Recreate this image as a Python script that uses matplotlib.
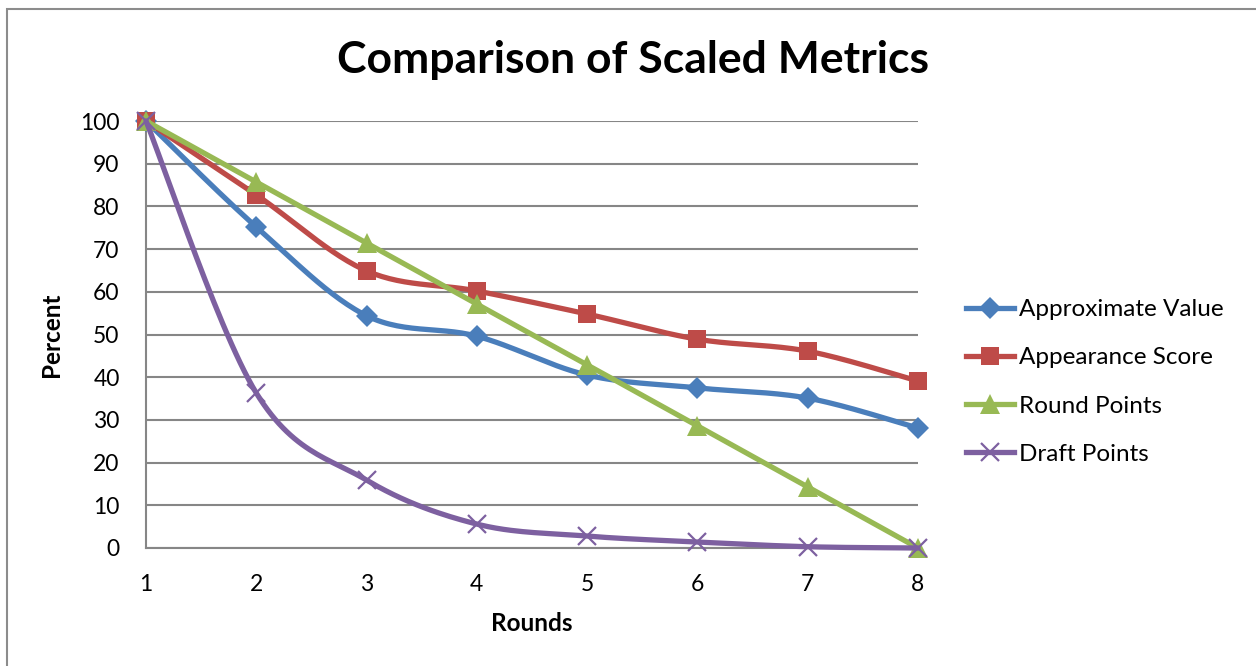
import numpy as np
import matplotlib
matplotlib.use("Agg")
import matplotlib.pyplot as plt
from matplotlib.patches import Rectangle

plt.rcParams['font.family'] = ['Lato', 'DejaVu Sans']

rounds = [1, 2, 3, 4, 5, 6, 7, 8]
approx_value = [100, 75.2, 54.4, 49.6, 40.5, 37.5, 35.1, 28.1]
appearance_score = [100, 82.7, 64.9, 60.2, 54.8, 48.9, 46.1, 39.1]
round_points = [100, 85.7, 71.4, 57.1, 42.9, 28.6, 14.3, 0]
draft_points = [100, 36.3, 15.9, 5.6, 2.8, 1.4, 0.3, 0]

names = ['Approximate Value', 'Appearance Score', 'Round Points', 'Draft Points']
colors = ['#4A7EBB', '#BE4B48', '#98B954', '#7D60A0']
markers = ['D', 's', '^', 'x']
msizes = {'D': 11, 's': 13, '^': 14, 'x': 13}


def smooth(x, y, n=30):
    # Excel style smoothing: cubic bezier with catmull-rom control points
    x = np.asarray(x, float)
    y = np.asarray(y, float)
    xs, ys = [x[0]], [y[0]]
    t = np.linspace(0, 1, n)[1:]
    for i in range(len(x) - 1):
        i0 = max(i - 1, 0)
        i3 = min(i + 2, len(x) - 1)
        p0 = np.array([x[i], y[i]])
        p3 = np.array([x[i + 1], y[i + 1]])
        c1 = p0 + (p3 - np.array([x[i0], y[i0]])) / 6
        c2 = p3 - (np.array([x[i3], y[i3]]) - p0) / 6
        pts = ((1 - t) ** 3)[:, None] * p0 + (3 * (1 - t) ** 2 * t)[:, None] * c1 \
            + (3 * (1 - t) * t ** 2)[:, None] * c2 + (t ** 3)[:, None] * p3
        xs.extend(pts[:, 0])
        ys.extend(pts[:, 1])
    return xs, ys


fig = plt.figure(figsize=(12.56, 6.66), dpi=100)
ax = fig.add_axes([146 / 1256, 1 - 548 / 666, (918 - 146) / 1256, (548 - 121) / 666])

# outer chart border (only left and top visible)
fig.patches.append(Rectangle((7 / 1256, -0.1), 1.2, (666 - 9) / 666 + 0.1,
                             transform=fig.transFigure, fill=False,
                             edgecolor='#8c8c8c', linewidth=1.5))

series = [approx_value, appearance_score, round_points, draft_points]
handles = []
for k, vals in enumerate(series):
    sx, sy = smooth(rounds, vals)
    z = 3 + k
    m = markers[k]
    mew = 1.6 if m == 'x' else 0
    ax.plot(sx, sy, color=colors[k], lw=3.8, solid_capstyle='round', zorder=z, clip_on=False)
    ax.plot(rounds, vals, ls='none', marker=m, ms=msizes[m], mew=mew, color=colors[k],
            zorder=z, clip_on=False)
    h, = ax.plot([], [], color=colors[k], lw=3.8, marker=m, ms=msizes[m], mew=mew)
    handles.append(h)

ax.set_xlim(1, 8)
ax.set_ylim(0, 100)
ax.set_xticks(rounds)
ax.set_yticks(range(0, 101, 10))
ax.tick_params(length=0, labelsize=16.5)
ax.tick_params(axis='y', pad=19)
ax.tick_params(axis='x', pad=19)
ax.grid(axis='y', color='#868686', lw=1.5)
ax.set_axisbelow(True)
for s in ['top', 'right']:
    ax.spines[s].set_visible(False)
for s in ['left', 'bottom']:
    ax.spines[s].set_color('#868686')
    ax.spines[s].set_linewidth(1.5)

ax.set_xlabel('Rounds', fontsize=17.5, fontweight='bold', labelpad=12)
ax.set_ylabel('Percent', fontsize=17.5, fontweight='bold', labelpad=12)
fig.text(633 / 1256, 1 - 60 / 666, 'Comparison of Scaled Metrics', ha='center', va='center',
         fontsize=32, fontweight='bold')

fig.legend(handles, names, loc='center left', bbox_to_anchor=(944 / 1256, 1 - 382 / 666),
           frameon=False, fontsize=17.5, handlelength=2.0, handletextpad=0.2,
           labelspacing=1.12)

fig.savefig('out.png', dpi=100)
